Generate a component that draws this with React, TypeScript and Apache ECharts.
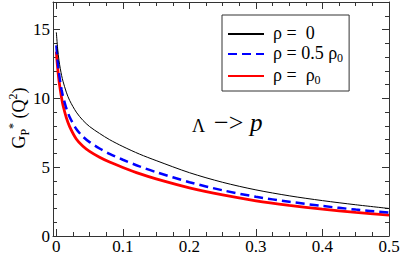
import React, { useEffect, useRef } from "react";
import * as echarts from "echarts";

const xValues = [0, 0.002, 0.004, 0.006, 0.008, 0.01, 0.015, 0.02, 0.03, 0.04, 0.05, 0.065, 0.08, 0.1, 0.125, 0.15, 0.2, 0.25, 0.3, 0.35, 0.4, 0.45, 0.5];
const rhoZero = [14.8, 13.6, 12.75, 12.15, 11.65, 11.25, 10.45, 9.85, 9.0, 8.4, 7.95, 7.45, 7.0, 6.5, 5.95, 5.48, 4.6, 3.9, 3.35, 2.92, 2.57, 2.27, 2.0];
const rhoHalf = [13.85, 12.72, 11.84, 11.17, 10.6, 10.15, 9.28, 8.65, 7.77, 7.22, 6.82, 6.36, 5.97, 5.54, 5.06, 4.64, 3.91, 3.32, 2.85, 2.49, 2.18, 1.92, 1.7];
const rhoFull = [13.4, 12.2, 11.3, 10.6, 10.0, 9.5, 8.6, 7.95, 7.05, 6.52, 6.15, 5.72, 5.37, 4.98, 4.53, 4.15, 3.5, 2.98, 2.56, 2.23, 1.95, 1.72, 1.52];

const xMajorTicks = [0, 0.1, 0.2, 0.3, 0.4, 0.5];
const xMinorTicks = [0.025, 0.05, 0.075, 0.125, 0.15, 0.175, 0.225, 0.25, 0.275, 0.325, 0.35, 0.375, 0.425, 0.45, 0.475];
const yMajorTicks = [0, 5, 10, 15];
const yMinorTicks = [1, 2, 3, 4, 6, 7, 8, 9, 11, 12, 13, 14, 16];

const SERIF = "Liberation Serif";
const FRAME = "#333";

function xAxisDef(position: "top" | "bottom", major: boolean, labels: boolean) {
  return {
    type: "value",
    position,
    min: -0.005,
    max: 0.5,
    splitLine: { show: false },
    axisLine: { show: major, onZero: false, lineStyle: { color: FRAME, width: 1 } },
    axisTick: {
      show: true,
      inside: true,
      length: major ? 7 : 4,
      customValues: major ? xMajorTicks : xMinorTicks,
      lineStyle: { color: FRAME, width: 1 },
    },
    axisLabel: {
      show: labels,
      customValues: xMajorTicks,
      formatter: (v: number) => String(v),
      margin: 2,
      fontFamily: SERIF,
      fontSize: 17,
      lineHeight: 16,
      color: "#000",
    },
  };
}

function yAxisDef(position: "left" | "right", major: boolean, labels: boolean) {
  return {
    type: "value",
    position,
    min: 0,
    max: 17,
    splitLine: { show: false },
    axisLine: { show: major, onZero: false, lineStyle: { color: FRAME, width: 1 } },
    axisTick: {
      show: true,
      inside: true,
      length: major ? 7 : 4,
      customValues: major ? yMajorTicks : yMinorTicks,
      lineStyle: { color: FRAME, width: 1 },
    },
    axisLabel: {
      show: labels,
      customValues: yMajorTicks,
      formatter: (v: number) => String(v),
      margin: 3,
      fontFamily: SERIF,
      fontSize: 17,
      color: "#000",
    },
  };
}

const legendNames: Record<string, string> = {
  zero: "{t|ρ =  0}",
  half: "{t|ρ = 0.5 ρ}{s|0}",
  full: "{t|ρ =  ρ}{s|0}",
};

export default function App() {
  const ref = useRef<HTMLDivElement>(null);
  useEffect(() => {
    if (!ref.current) return;
    const chart = echarts.init(ref.current, null, { renderer: "svg" });
    const pairs = (ys: number[]) => xValues.map((x, i) => [x, ys[i]]);
    chart.setOption({
      animation: false,
      backgroundColor: "#fff",
      textStyle: { fontFamily: SERIF },
      grid: { left: 53, right: 13, top: 2, bottom: 19, containLabel: false, outerBoundsMode: "none" },
      xAxis: [
        xAxisDef("bottom", true, true),
        xAxisDef("bottom", false, false),
        xAxisDef("top", true, false),
        xAxisDef("top", false, false),
      ],
      yAxis: [
        yAxisDef("left", true, true),
        yAxisDef("left", false, false),
        yAxisDef("right", true, false),
        yAxisDef("right", false, false),
      ],
      legend: {
        orient: "vertical",
        left: 222,
        top: 15,
        padding: [9, 6, 5, 5],
        itemWidth: 36,
        itemHeight: 20,
        itemGap: 2,
        borderColor: FRAME,
        borderWidth: 1,
        backgroundColor: "#fff",
        itemStyle: { color: "transparent", borderWidth: 0, opacity: 0 },
        data: ["zero", "half", "full"],
        formatter: (name: string) => legendNames[name],
        textStyle: {
          color: "#000",
          fontFamily: SERIF,
          fontSize: 18,
          rich: {
            t: { fontFamily: SERIF, fontSize: 18, lineHeight: 20, verticalAlign: "top", padding: [0, 0, 0, 4], color: "#000" },
            s: { fontFamily: SERIF, fontSize: 12, lineHeight: 20, verticalAlign: "bottom", color: "#000" },
          },
        },
      },
      graphic: [
        {
          type: "text",
          x: 19,
          y: 118,
          rotation: Math.PI / 2,
          style: {
            text: "{m|G}{b|P}{p|*}{m| (Q}{p|2}{m|)}",
            fontFamily: SERIF,
            fontSize: 18,
            align: "center",
            verticalAlign: "middle",
            fill: "#000",
            rich: {
              m: { fontFamily: SERIF, fontSize: 18, lineHeight: 24, verticalAlign: "middle", fill: "#000" },
              b: { fontFamily: SERIF, fontSize: 12, lineHeight: 24, verticalAlign: "bottom", fill: "#000" },
              p: { fontFamily: SERIF, fontSize: 12, lineHeight: 24, verticalAlign: "top", fill: "#000" },
            },
          },
        },
        {
          type: "text",
          x: 192,
          y: 125.7,
          style: { text: "Λ", fontFamily: SERIF, fontSize: 18, verticalAlign: "middle", fill: "#000" },
        },
        {
          type: "text",
          x: 214,
          y: 122.9,
          style: { text: "−>", fontFamily: SERIF, fontSize: 26, verticalAlign: "middle", fill: "#000" },
        },
        {
          type: "text",
          x: 250,
          y: 122.9,
          style: { text: "p", fontFamily: SERIF, fontSize: 25, fontStyle: "italic", verticalAlign: "middle", fill: "#000" },
        },
      ],
      series: [
        {
          name: "zero",
          type: "line",
          data: pairs(rhoZero),
          showSymbol: false,
          symbol: "none",
          smooth: 0.3,
          lineStyle: { color: "#000", width: 1 },
          itemStyle: { color: "#000" },
          z: 4,
        },
        {
          name: "half",
          type: "line",
          data: pairs(rhoHalf),
          showSymbol: false,
          symbol: "none",
          smooth: 0.3,
          lineStyle: { color: "#0000ff", width: 2.5, type: [9, 5] },
          itemStyle: { color: "#0000ff" },
          z: 3,
        },
        {
          name: "full",
          type: "line",
          data: pairs(rhoFull),
          showSymbol: false,
          symbol: "none",
          smooth: 0.3,
          lineStyle: { color: "#ff0000", width: 2.8 },
          itemStyle: { color: "#ff0000" },
          z: 2,
        },
      ],
    });
    return () => chart.dispose();
  }, []);
  return (
    <div
      ref={ref}
      style={{ position: "fixed", left: 0, top: 0, width: 402, height: 255, background: "#fff" }}
    />
  );
}
